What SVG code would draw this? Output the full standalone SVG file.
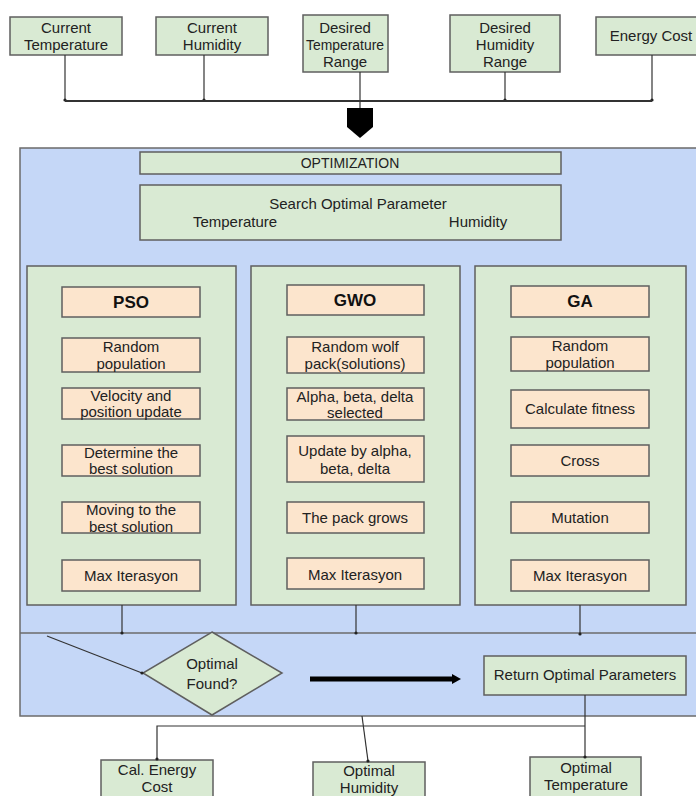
<svg xmlns="http://www.w3.org/2000/svg" width="696" height="796" viewBox="0 0 696 796">
<defs>
<style>
.g{fill:#d9ead3;stroke:#5f5f5f;stroke-width:1.5}
.o{fill:#fce5cd;stroke:#5f5f5f;stroke-width:1.5}
.b{fill:#c5d7f7;stroke:#6b6b6b;stroke-width:1.5}
.t{font-family:"Liberation Sans",Arial,sans-serif;font-size:15px;fill:#222;text-anchor:middle}
.h{font-family:"Liberation Sans",Arial,sans-serif;font-size:17px;font-weight:bold;fill:#111;text-anchor:middle}
.c{fill:none;stroke:#333;stroke-width:1.2}
</style>
<marker id="dot" markerWidth="4" markerHeight="4" refX="2" refY="2" markerUnits="userSpaceOnUse"><circle cx="2" cy="2" r="1.6" fill="#222"/></marker>
<marker id="ah" markerWidth="10" markerHeight="12" refX="1" refY="6" orient="auto" markerUnits="userSpaceOnUse"><path d="M0,1 L9,6 L0,11 Z" fill="#000"/></marker>
</defs>
<rect width="696" height="796" fill="#fff"/>

<g id="container">
<rect class="b" x="20" y="148" width="690" height="568"/>
<line x1="20" y1="633" x2="696" y2="633" stroke="#6b6b6b" stroke-width="1.5"/>
</g>

<g id="n-current-temperature"><rect class="g" x="10" y="17" width="112" height="38"/><text class="t" x="66" y="33">Current</text><text class="t" x="66" y="50">Temperature</text></g>
<g id="n-current-humidity"><rect class="g" x="156" y="17" width="112" height="38"/><text class="t" x="212" y="33">Current</text><text class="t" x="212" y="50">Humidity</text></g>
<g id="n-desired-temperature"><rect class="g" x="303" y="15" width="85" height="57"/><text class="t" x="345" y="33">Desired</text><text class="t" x="345" y="50" style="font-size:14px" textLength="78" lengthAdjust="spacingAndGlyphs">Temperature</text><text class="t" x="345" y="67">Range</text></g>
<g id="n-desired-humidity"><rect class="g" x="450" y="15" width="110" height="57"/><text class="t" x="505" y="33">Desired</text><text class="t" x="505" y="50">Humidity</text><text class="t" x="505" y="67">Range</text></g>
<g id="n-energy-cost"><rect class="g" x="596" y="17" width="110" height="38"/><text class="t" x="651" y="41">Energy Cost</text></g>

<g id="n-merge-arrow"><polygon points="347,108 373,108 373,127 360,138 347,127" fill="#000"/></g>

<g id="n-optimization"><rect class="g" x="140" y="152" width="421" height="22"/><text class="t" x="350" y="168" style="font-size:14px">OPTIMIZATION</text></g>
<g id="n-search"><rect class="g" x="140" y="185" width="421" height="55"/><text class="t" x="358" y="209">Search Optimal Parameter</text><text class="t" x="235" y="227">Temperature</text><text class="t" x="478" y="227">Humidity</text></g>

<g id="n-pso">
<rect class="g" x="27" y="266" width="209" height="339"/>
<rect class="o" x="62" y="287" width="138" height="30"/><text class="h" x="131" y="308">PSO</text>
<rect class="o" x="62" y="338" width="138" height="34"/><text class="t" x="131" y="352">Random</text><text class="t" x="131" y="369">population</text>
<rect class="o" x="62" y="388" width="138" height="31"/><text class="t" x="131" y="401">Velocity and</text><text class="t" x="131" y="417">position update</text>
<rect class="o" x="62" y="445" width="138" height="31"/><text class="t" x="131" y="458">Determine the</text><text class="t" x="131" y="474">best solution</text>
<rect class="o" x="62" y="502" width="138" height="31"/><text class="t" x="131" y="515">Moving to the</text><text class="t" x="131" y="532">best solution</text>
<rect class="o" x="62" y="560" width="138" height="31"/><text class="t" x="131" y="581">Max Iterasyon</text>
</g>

<g id="n-gwo">
<rect class="g" x="251" y="266" width="209" height="339"/>
<rect class="o" x="287" y="285" width="137" height="30"/><text class="h" x="355" y="306">GWO</text>
<rect class="o" x="287" y="337" width="137" height="36"/><text class="t" x="355" y="352">Random wolf</text><text class="t" x="355" y="369">pack(solutions)</text>
<rect class="o" x="287" y="388" width="137" height="32"/><text class="t" x="355" y="402">Alpha, beta, delta</text><text class="t" x="355" y="418">selected</text>
<rect class="o" x="287" y="436" width="137" height="46"/><text class="t" x="355" y="456">Update by alpha,</text><text class="t" x="355" y="474">beta, delta</text>
<rect class="o" x="287" y="502" width="137" height="31"/><text class="t" x="355" y="523">The pack grows</text>
<rect class="o" x="287" y="558" width="137" height="31"/><text class="t" x="355" y="580">Max Iterasyon</text>
</g>

<g id="n-ga">
<rect class="g" x="475" y="266" width="211" height="339"/>
<rect class="o" x="511" y="286" width="138" height="31"/><text class="h" x="580" y="307">GA</text>
<rect class="o" x="511" y="337" width="138" height="34"/><text class="t" x="580" y="351">Random</text><text class="t" x="580" y="368">population</text>
<rect class="o" x="511" y="390" width="138" height="38"/><text class="t" x="580" y="414">Calculate fitness</text>
<rect class="o" x="511" y="445" width="138" height="31"/><text class="t" x="580" y="466">Cross</text>
<rect class="o" x="511" y="502" width="138" height="31"/><text class="t" x="580" y="523">Mutation</text>
<rect class="o" x="511" y="560" width="138" height="31"/><text class="t" x="580" y="581">Max Iterasyon</text>
</g>

<g id="n-optimal-found"><polygon class="g" points="212,632 282,673 212,715 143,673"/><text class="t" x="212" y="669">Optimal</text><text class="t" x="212" y="689">Found?</text></g>
<g id="n-return"><rect class="g" x="484" y="656" width="202" height="39"/><text class="t" x="585" y="680">Return Optimal Parameters</text></g>

<g id="n-cal-energy"><rect class="g" x="101" y="760" width="112" height="40"/><text class="t" x="157" y="775">Cal. Energy</text><text class="t" x="157" y="792">Cost</text></g>
<g id="n-optimal-humidity"><rect class="g" x="313" y="762" width="112" height="40"/><text class="t" x="369" y="776">Optimal</text><text class="t" x="369" y="793">Humidity</text></g>
<g id="n-optimal-temperature"><rect class="g" x="530" y="757" width="111" height="40"/><text class="t" x="586" y="773">Optimal</text><text class="t" x="586" y="790">Temperature</text></g>

<g id="connectors">
<path class="c" d="M65,55 V100" marker-end="url(#dot)"/>
<path class="c" d="M204,55 V100" marker-end="url(#dot)"/>
<path class="c" d="M360,72 V100"/>
<path class="c" d="M505,72 V100" marker-end="url(#dot)"/>
<path class="c" d="M652,55 V100" marker-end="url(#dot)"/>
<path d="M65,101 H652" fill="none" stroke="#333" stroke-width="2"/>
<path class="c" d="M360,101 V108"/>
<path class="c" d="M122,605 V633" marker-end="url(#dot)"/>
<path class="c" d="M356,605 V633" marker-end="url(#dot)"/>
<path class="c" d="M580,605 V634" marker-end="url(#dot)"/>
<path class="c" d="M47,636 L142,673" marker-end="url(#dot)"/>
<path d="M310,679 H453" fill="none" stroke="#000" stroke-width="5" marker-end="url(#ah)"/>
<path class="c" d="M585,695 V757" marker-end="url(#dot)"/>
<path class="c" d="M585,726 H157 V759" marker-end="url(#dot)"/>
<path class="c" d="M362,716 L368,761" marker-end="url(#dot)"/>
</g>
</svg>
